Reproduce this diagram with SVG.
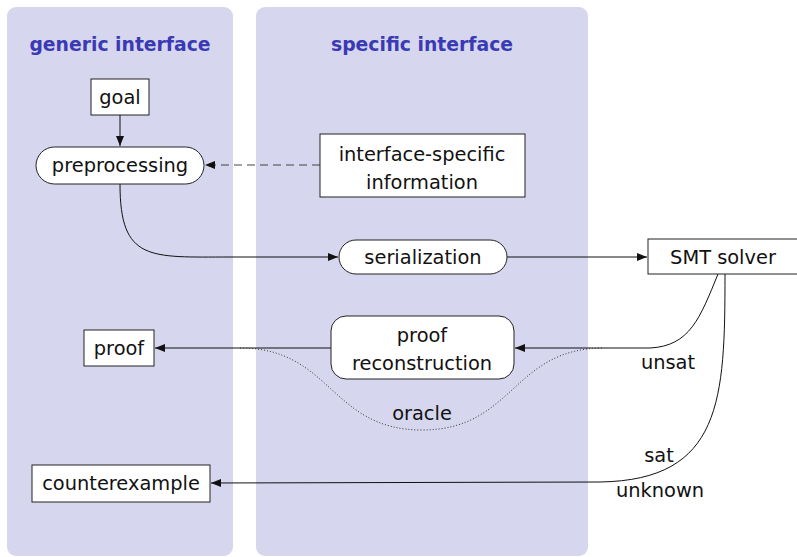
<svg xmlns="http://www.w3.org/2000/svg" width="797" height="557" viewBox="0 0 797 557">
  <style>
    .panel { fill: #d6d6ee; }
    .title { font-family: "DejaVu Sans", sans-serif; font-weight: bold; font-size: 18.8px; fill: #3a3ab4; text-anchor: middle; }
    .node { fill: #ffffff; stroke: #222; stroke-width: 1; }
    .lbl { font-family: "DejaVu Sans", sans-serif; font-size: 19.4px; fill: #111; text-anchor: middle; }
    .edge { fill: none; stroke: #111; stroke-width: 1; }
    .dashed { stroke: #444; stroke-dasharray: 8 5; }
    .dotted { stroke: #333; stroke-dasharray: 1 2; }
  </style>
  <defs>
    <marker id="arrow" viewBox="0 0 10 8" refX="10" refY="4" markerWidth="10" markerHeight="8" markerUnits="userSpaceOnUse" orient="auto">
      <path d="M0,0 L10,4 L0,8 Z" fill="#111"/>
    </marker>
  </defs>

  <!-- background panels -->
  <g id="generic-panel">
    <rect class="panel" x="7" y="7" width="226" height="549" rx="9"/>
    <text class="title" x="120" y="51">generic interface</text>
  </g>
  <g id="specific-panel">
    <rect class="panel" x="256" y="7" width="332" height="549" rx="9"/>
    <text class="title" x="422" y="51">specific interface</text>
  </g>

  <!-- connectors -->
  <g id="connectors">
    <path class="edge" d="M120,115 L120,146" marker-end="url(#arrow)"/>
    <path class="edge dashed" d="M320,165 L205,165" marker-end="url(#arrow)"/>
    <path class="edge" d="M120,184 C120,262 150,257 230,257 L338,257" marker-end="url(#arrow)"/>
    <path class="edge" d="M507,257 L647,257" marker-end="url(#arrow)"/>
    <path class="edge" d="M718,274 C700,318 690,346 650,348 L515,348" marker-end="url(#arrow)"/>
    <path class="edge" d="M331,348 L155,348" marker-end="url(#arrow)"/>
    <path class="edge" d="M725,274 C725,400 722,480 600,482 L211,483" marker-end="url(#arrow)"/>
    <path class="edge dotted" d="M240,348 C332,348 330,430 422,430 C514,430 512,348 604,348"/>
    <text class="lbl" x="668" y="369">unsat</text>
    <text class="lbl" x="422" y="420">oracle</text>
    <text class="lbl" x="659" y="462">sat</text>
    <text class="lbl" x="660" y="497">unknown</text>
  </g>

  <!-- nodes -->
  <g id="goal">
    <rect class="node" x="91" y="79" width="58" height="36"/>
    <text class="lbl" x="120" y="104">goal</text>
  </g>
  <g id="preprocessing">
    <rect class="node" x="36" y="147" width="168" height="37" rx="18.5"/>
    <text class="lbl" x="120" y="172">preprocessing</text>
  </g>
  <g id="interface-specific-information">
    <rect class="node" x="320" y="134" width="205" height="63"/>
    <text class="lbl" x="422" y="161">interface-specific</text>
    <text class="lbl" x="422" y="189">information</text>
  </g>
  <g id="serialization">
    <rect class="node" x="339" y="240" width="168" height="34" rx="17"/>
    <text class="lbl" x="423" y="264">serialization</text>
  </g>
  <g id="smt-solver">
    <rect class="node" x="648" y="239" width="152" height="35"/>
    <text class="lbl" x="723" y="264">SMT solver</text>
  </g>
  <g id="proof-reconstruction">
    <rect class="node" x="331" y="316" width="183" height="63" rx="15"/>
    <text class="lbl" x="422" y="342">proof</text>
    <text class="lbl" x="422" y="370">reconstruction</text>
  </g>
  <g id="proof">
    <rect class="node" x="84" y="330" width="70" height="36"/>
    <text class="lbl" x="119" y="355">proof</text>
  </g>
  <g id="counterexample">
    <rect class="node" x="32" y="465" width="178" height="37"/>
    <text class="lbl" x="121" y="490">counterexample</text>
  </g>
</svg>
